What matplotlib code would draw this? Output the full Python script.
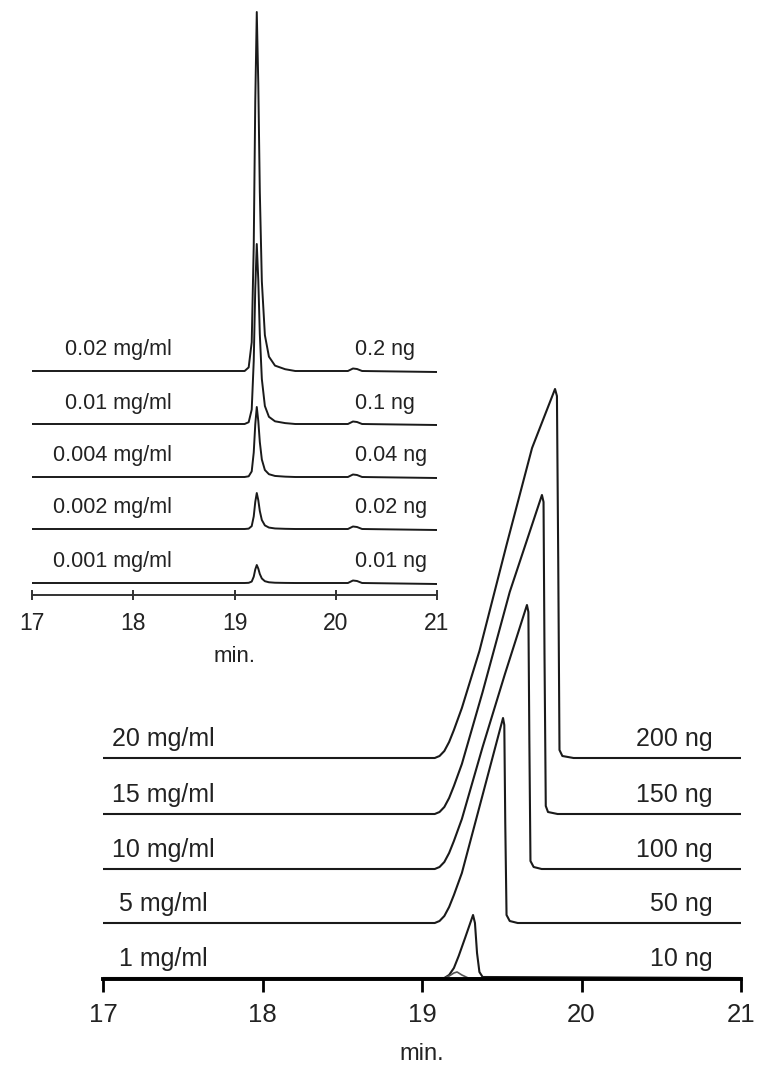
import numpy as np
import matplotlib
matplotlib.use("Agg")
import matplotlib.pyplot as plt

plt.rcParams['font.family'] = ['Liberation Sans', 'DejaVu Sans']

# --- upper panel (low concentrations) ---
top_left_labels = ["0.02 mg/ml", "0.01 mg/ml", "0.004 mg/ml", "0.002 mg/ml", "0.001 mg/ml"]
top_right_labels = ["0.2 ng", "0.1 ng", "0.04 ng", "0.02 ng", "0.01 ng"]
top_offsets = [224, 171, 118, 66, 12]
top_heights = [359, 180, 70, 36, 18]
# common peak profile (relative), apex ~19.22 min
top_t = [17.0, 18.0, 19.10, 19.14, 19.17, 19.19, 19.205, 19.22, 19.235, 19.25, 19.27, 19.30,
         19.34, 19.40, 19.50, 19.60, 20.12, 20.17, 20.21, 20.26, 21.0]
top_shape = [0, 0, 0, 0.01, 0.08, 0.35, 0.75, 1.0, 0.8, 0.5, 0.25, 0.1,
             0.04, 0.015, 0.005, 0, 0, 0, 0, 0, 0]
top_bump = [0, 0, 0, 0, 0, 0, 0, 0, 0, 0, 0, 0,
            0, 0, 0, 0, 0, 2.5, 2, 0, -1]

# --- lower panel (overloaded peaks) ---
bot_left_labels = ["20 mg/ml", "15 mg/ml", "10 mg/ml", "5 mg/ml", "1 mg/ml"]
bot_right_labels = ["200 ng", "150 ng", "100 ng", "50 ng", "10 ng"]
bot_offsets = [221, 165, 110, 56, 1]
bot_t = [
    [17.0, 19.08, 19.11, 19.14, 19.17, 19.20, 19.25, 19.36, 19.53, 19.69, 19.834,
     19.846, 19.854, 19.862, 19.88, 19.95, 21.0],
    [17.0, 19.08, 19.11, 19.14, 19.17, 19.20, 19.25, 19.38, 19.55, 19.752,
     19.762, 19.768, 19.776, 19.79, 19.85, 21.0],
    [17.0, 19.08, 19.11, 19.14, 19.17, 19.20, 19.25, 19.38, 19.52, 19.658,
     19.667, 19.673, 19.680, 19.70, 19.75, 21.0],
    [17.0, 19.08, 19.11, 19.14, 19.17, 19.20, 19.25, 19.35, 19.508,
     19.516, 19.522, 19.530, 19.55, 19.60, 21.0],
    [17.0, 19.14, 19.17, 19.20, 19.23, 19.27, 19.32, 19.332, 19.345, 19.36, 19.38, 21.0],
]
bot_h = [
    [0, 0, 2, 7, 16, 28, 50, 107, 213, 310, 369, 362, 200, 8, 2, 0, 0],
    [0, 0, 2, 7, 16, 28, 50, 122, 222, 319, 312, 160, 8, 2, 0, 0],
    [0, 0, 2, 7, 16, 28, 50, 122, 195, 264, 257, 130, 8, 2, 0, 0],
    [0, 0, 2, 7, 16, 28, 50, 110, 205, 198, 100, 8, 2, 0, 0],
    [0, 0, 3, 10, 22, 40, 63, 55, 25, 6, 1, 0],
]
# a very small trace sitting on the axis
small_t = [17.0, 19.14, 19.17, 19.20, 19.22, 19.25, 19.29, 21.0]
small_h = [0, 0, 2, 5, 6, 3, 0, 0]

ticks = [17, 18, 19, 20, 21]
line_col = "#1a1a1a"
text_col = "#222222"

fig = plt.figure(figsize=(7.59, 10.67), dpi=100)

ax1 = fig.add_axes([32 / 759, 1 - 595 / 1067, 405 / 759, 590 / 1067])
for i in range(len(top_offsets)):
    y = top_offsets[i] + np.array(top_shape) * top_heights[i] + np.array(top_bump)
    ax1.plot(top_t, y, color=line_col, lw=1.4)
    ax1.text(18.38, top_offsets[i] + 21, top_left_labels[i], ha='right', va='center',
             fontsize=15.5, color=text_col)
    ax1.text(20.19, top_offsets[i] + 21, top_right_labels[i], ha='left', va='center',
             fontsize=15.5, color=text_col)
ax1.set_xlim(17, 21)
ax1.set_ylim(0, 590)
for s in ['top', 'left', 'right']:
    ax1.spines[s].set_visible(False)
ax1.spines['bottom'].set_linewidth(1.4)
ax1.spines['bottom'].set_color("#333333")
ax1.set_yticks([])
ax1.set_xticks(ticks)
ax1.tick_params(axis='x', direction='inout', length=7, width=1.4, labelsize=16.5, pad=9,
                colors="#333333", labelcolor=text_col)
ax1.set_xlabel("min.", fontsize=16, color=text_col, labelpad=8)
ax1.patch.set_alpha(0)

ax2 = fig.add_axes([103 / 759, 1 - 979 / 1067, 638 / 759, 600 / 1067])
for i in range(len(bot_offsets)):
    y = bot_offsets[i] + np.array(bot_h[i])
    ax2.plot(bot_t[i], y, color=line_col, lw=1.5)
    ax2.text(17.38, bot_offsets[i] + 19, bot_left_labels[i], ha='center', va='center',
             fontsize=18, color=text_col)
    ax2.text(20.82, bot_offsets[i] + 19, bot_right_labels[i], ha='right', va='center',
             fontsize=18, color=text_col)
ax2.plot(small_t, np.array(small_h) + 1, color="#555555", lw=1.2)
ax2.set_xlim(17, 21)
ax2.set_ylim(0, 600)
for s in ['top', 'left', 'right']:
    ax2.spines[s].set_visible(False)
ax2.spines['bottom'].set_linewidth(2.8)
ax2.set_yticks([])
ax2.set_xticks(ticks)
ax2.tick_params(axis='x', direction='out', length=9, width=2, labelsize=18.5, pad=8,
                labelcolor=text_col)
ax2.set_xlabel("min.", fontsize=17, color=text_col, labelpad=12)
ax2.patch.set_alpha(0)

fig.savefig("out.png", dpi=100)
